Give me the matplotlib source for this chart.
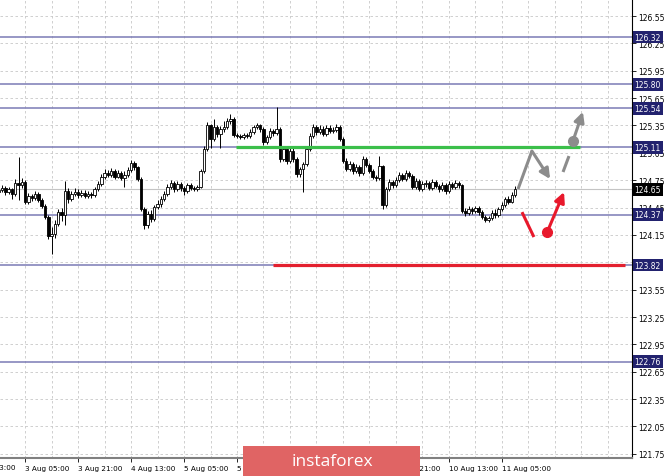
import matplotlib
matplotlib.use("Agg")
import matplotlib.pyplot as plt
import matplotlib.transforms as mtransforms
from matplotlib.patches import Rectangle
import numpy as np

# USDJPY-like H1 candles (closes, highs, lows); open = previous close
first_open = 124.620
closes = [
    124.642, 124.664, 124.620, 124.653, 124.598, 124.719, 124.697, 124.730, 124.511, 124.577,
    124.555, 124.598, 124.533, 124.467, 124.346, 124.138, 124.160, 124.270, 124.401, 124.368,
    124.631, 124.544, 124.598, 124.620, 124.587, 124.609, 124.577, 124.598, 124.587, 124.653,
    124.708, 124.785, 124.829, 124.807, 124.851, 124.785, 124.829, 124.774, 124.807, 124.862,
    124.938, 124.895, 124.763, 124.434, 124.259, 124.379, 124.324, 124.456, 124.489, 124.544,
    124.598, 124.675, 124.719, 124.653, 124.708, 124.664, 124.631, 124.697, 124.664, 124.653,
    124.675, 124.851, 125.092, 125.355, 125.202, 125.333, 125.256, 125.311, 125.333, 125.399,
    125.421, 125.245, 125.234, 125.224, 125.245, 125.234, 125.278, 125.333, 125.355, 125.311,
    125.169, 125.224, 125.289, 125.267, 125.311, 124.982, 125.092, 124.960, 125.070, 124.982,
    124.818, 124.873, 124.927, 125.092, 125.234, 125.333, 125.278, 125.311, 125.256, 125.322,
    125.289, 125.300, 125.333, 125.202, 124.960, 124.873, 124.927, 124.851, 124.895, 124.829,
    124.982, 124.916, 124.851, 124.785, 124.770, 124.906, 124.478, 124.653, 124.730, 124.697,
    124.752, 124.807, 124.763, 124.829, 124.796, 124.675, 124.741, 124.653, 124.708, 124.719,
    124.664, 124.730, 124.686, 124.653, 124.697, 124.631, 124.708, 124.675, 124.719, 124.697,
    124.412, 124.390, 124.434, 124.412, 124.445, 124.401, 124.346, 124.313, 124.335, 124.390,
    124.368, 124.434, 124.478, 124.544, 124.511, 124.587, 124.653,
]
highs = [
    124.67, 124.70, 124.69, 124.68, 124.67, 124.76, 125.00, 124.77, 124.75, 124.61,
    124.60, 124.63, 124.62, 124.56, 124.49, 124.37, 124.24, 124.31, 124.43, 124.44,
    124.74, 124.66, 124.63, 124.66, 124.65, 124.64, 124.64, 124.63, 124.62, 124.68,
    124.74, 124.82, 124.87, 124.86, 124.88, 124.87, 124.86, 124.85, 124.85, 124.90,
    124.97, 124.96, 124.91, 124.78, 124.46, 124.41, 124.42, 124.48, 124.53, 124.58,
    124.63, 124.71, 124.75, 124.74, 124.74, 124.73, 124.69, 124.72, 124.72, 124.69,
    124.70, 124.87, 125.12, 125.39, 125.37, 125.42, 125.36, 125.34, 125.40, 125.43,
    125.48, 125.44, 125.27, 125.26, 125.27, 125.27, 125.31, 125.36, 125.38, 125.37,
    125.33, 125.25, 125.32, 125.31, 125.55, 125.33, 125.13, 125.11, 125.10, 125.10,
    125.00, 124.90, 124.95, 125.12, 125.27, 125.37, 125.36, 125.35, 125.34, 125.36,
    125.35, 125.33, 125.37, 125.35, 125.22, 124.99, 124.96, 124.95, 124.93, 124.92,
    125.01, 125.00, 124.94, 124.87, 124.81, 125.02, 124.92, 124.68, 124.76, 124.75,
    124.78, 124.84, 124.83, 124.86, 124.85, 124.82, 124.77, 124.76, 124.74, 124.75,
    124.74, 124.76, 124.75, 124.71, 124.73, 124.72, 124.74, 124.73, 124.75, 124.74,
    124.71, 124.44, 124.47, 124.46, 124.47, 124.47, 124.42, 124.37, 124.36, 124.42,
    124.43, 124.46, 124.51, 124.57, 124.58, 124.62, 124.69,
]
lows = [
    124.60, 124.62, 124.59, 124.60, 124.54, 124.58, 124.53, 124.67, 124.49, 124.49,
    124.52, 124.53, 124.51, 124.44, 124.32, 124.10, 123.94, 124.12, 124.25, 124.30,
    124.26, 124.50, 124.52, 124.58, 124.56, 124.57, 124.55, 124.55, 124.56, 124.57,
    124.63, 124.69, 124.76, 124.78, 124.79, 124.76, 124.77, 124.75, 124.68, 124.79,
    124.84, 124.86, 124.74, 124.41, 124.21, 124.23, 124.29, 124.30, 124.43, 124.46,
    124.52, 124.58, 124.65, 124.62, 124.63, 124.63, 124.59, 124.61, 124.64, 124.63,
    124.63, 124.66, 124.83, 125.07, 125.10, 125.18, 125.22, 125.10, 125.28, 125.31,
    125.37, 125.22, 125.21, 125.20, 125.20, 125.21, 125.21, 125.26, 125.31, 125.28,
    125.14, 125.15, 125.20, 125.24, 125.25, 124.95, 124.96, 124.93, 124.94, 124.95,
    124.79, 124.79, 124.62, 124.91, 125.07, 125.21, 125.25, 125.26, 125.23, 125.24,
    125.27, 125.27, 125.28, 125.18, 124.94, 124.85, 124.85, 124.82, 124.83, 124.80,
    124.81, 124.89, 124.83, 124.76, 124.74, 124.75, 124.43, 124.46, 124.63, 124.67,
    124.68, 124.73, 124.74, 124.74, 124.77, 124.65, 124.65, 124.63, 124.63, 124.68,
    124.64, 124.64, 124.66, 124.62, 124.63, 124.60, 124.61, 124.65, 124.65, 124.67,
    124.39, 124.36, 124.37, 124.38, 124.39, 124.37, 124.32, 124.29, 124.29, 124.31,
    124.34, 124.35, 124.41, 124.46, 124.49, 124.50, 124.57,
]

# levels
level_lines = [126.32, 125.80, 125.54, 125.11, 124.37, 123.82, 122.76]
current_price = 124.65
green_level = 125.11
green_span = [71.7, 175.6]
red_level = 123.82
red_span = [82.9, 189.2]

# axis ticks (123.85 sits under the 123.82 box, so no text for it)
y_ticks = [126.55, 126.25, 125.95, 125.65, 125.35, 125.05, 124.75, 124.45, 124.15,
           123.85, 123.55, 123.25, 122.95, 122.65, 122.35, 122.05, 121.75]
y_hidden = [123.85]
x_tick_pos = [8, 24, 40, 56, 72, 88, 104, 120, 136, 152]
# the two middle labels are covered by the logo in the reference
x_tick_labels = ['3 Aug 05:00', '3 Aug 21:00', '4 Aug 13:00', '5 Aug 05:00', '5 Aug 21:00',
                 '', '', '7 Aug 21:00', '10 Aug 13:00', '11 Aug 05:00']
first_label = '31 Jul 13:00'

# forecast paths (candle index, price)
gray_path_x = [156.9, 161.1, 166.6]
gray_path_y = [124.653, 125.07, 124.763]
gray_dash_x = [170.5, 172.3]
gray_dash_y = [124.84, 125.015]
gray_dot = (173.5, 125.18)
gray_tip = (176.5, 125.50)
red_line_x = [158.1, 161.7]
red_line_y = [124.40, 124.127]
red_dot = (165.7, 124.18)
red_tip = (170.8, 124.62)

W, H = 665, 477
fig = plt.figure(figsize=(W / 100, H / 100), dpi=100)
ax = fig.add_axes([0, 18 / H, 632 / W, 459 / H])
ax.set_xlim(0.4, 0.4 + 632 / 3.31)
ax.set_ylim(121.704, 126.737)

grid_kw = dict(color='#c8c8c8', lw=0.6, ls=(0, (3, 3)), zorder=0)
for yt in y_ticks:
    ax.axhline(yt, **grid_kw)
for xg in range(0, 192, 8):
    ax.axvline(xg, **grid_kw)

# level lines
for lv in level_lines:
    ax.axhline(lv, color='#7b7bb5', lw=1.1, zorder=1)
ax.axhline(current_price, color='#c4c4c4', lw=0.8, zorder=1)
ax.hlines(green_level, green_span[0], green_span[1], color='#3bbf4a', lw=2.3, zorder=4)
ax.hlines(red_level, red_span[0], red_span[1], color='#e3202e', lw=2.3, zorder=4)

# candles
opens = [first_open] + closes[:-1]
idx = np.arange(len(closes))
ax.vlines(idx, lows, highs, color='black', lw=0.7, zorder=2)
for i in idx:
    o, c = opens[i], closes[i]
    bottom = min(o, c)
    height = max(abs(c - o), 0.004)
    ax.bar(i, height, bottom=bottom, width=0.74,
           facecolor='white' if c >= o else 'black',
           edgecolor='black', linewidth=0.6, zorder=3)

# forecast marks
gray = '#8c8c8c'
red = '#e8192c'
arrow_kw = dict(arrowstyle='-|>', lw=2.2, mutation_scale=15, shrinkA=0, shrinkB=0)
ax.plot(gray_path_x[:2], gray_path_y[:2], color=gray, lw=2.2, solid_capstyle='butt', zorder=5)
ax.annotate('', xy=(gray_path_x[2], gray_path_y[2]), xytext=(gray_path_x[1], gray_path_y[1]),
            arrowprops=dict(color=gray, **arrow_kw), zorder=5)
ax.plot(gray_dash_x, gray_dash_y, color=gray, lw=2.2, solid_capstyle='butt', zorder=5)
ax.plot(*gray_dot, 'o', color=gray, ms=7, zorder=6)
ax.annotate('', xy=gray_tip, xytext=gray_dot,
            arrowprops=dict(color=gray, **arrow_kw), zorder=5)
ax.plot(red_line_x, red_line_y, color=red, lw=2.2, solid_capstyle='butt', zorder=5)
ax.plot(*red_dot, 'o', color=red, ms=7, zorder=6)
ax.annotate('', xy=red_tip, xytext=red_dot,
            arrowprops=dict(color=red, **arrow_kw), zorder=5)

# axes styling
for s in ['top', 'left']:
    ax.spines[s].set_visible(False)
ax.spines['right'].set_color('black')
ax.spines['right'].set_linewidth(0.8)
ax.spines['bottom'].set_color('#808080')
ax.spines['bottom'].set_linewidth(1.5)

ax.yaxis.tick_right()
ax.set_yticks(y_ticks)
ax.set_yticklabels(['' if v in y_hidden else f'{v:.2f}' for v in y_ticks])
ax.tick_params(axis='y', direction='out', length=3, width=0.6, pad=1.5,
               labelsize=5.5, colors='black')
ax.set_xticks(x_tick_pos)
ax.set_xticklabels(x_tick_labels, ha='left')
ax.tick_params(axis='x', direction='out', length=3, width=0.6, pad=2,
               labelsize=5.2, colors='black')

blend_x = mtransforms.blended_transform_factory(ax.transData, ax.transAxes)
ax.text(-8, -0.0135, first_label, transform=blend_x, ha='left', va='top',
        fontsize=5.2, clip_on=False)

# right price labels
blend_y = mtransforms.blended_transform_factory(ax.transAxes, ax.transData)
for lv in level_lines:
    ax.text(1.004, lv, f'{lv:.2f}', transform=blend_y, ha='left', va='center',
            fontsize=5.5, color='white', zorder=10, clip_on=False,
            bbox=dict(boxstyle='square,pad=0.25', fc='#22226e', ec='none'))
ax.text(1.004, current_price, f'{current_price:.2f}', transform=blend_y, ha='left',
        va='center', fontsize=5.5, color='white', zorder=10, clip_on=False,
        bbox=dict(boxstyle='square,pad=0.25', fc='black', ec='none'))

# instaforex logo box
fig.add_artist(Rectangle((243 / W, 0), 177 / W, 30 / H, transform=fig.transFigure,
                         facecolor='#e06464', edgecolor='none', zorder=20))
fig.text(332 / W, 15 / H, 'instaforex', ha='center', va='center', color='white',
         fontsize=12.5, family='Open Sans', zorder=21)

fig.savefig('out.png', dpi=100)
